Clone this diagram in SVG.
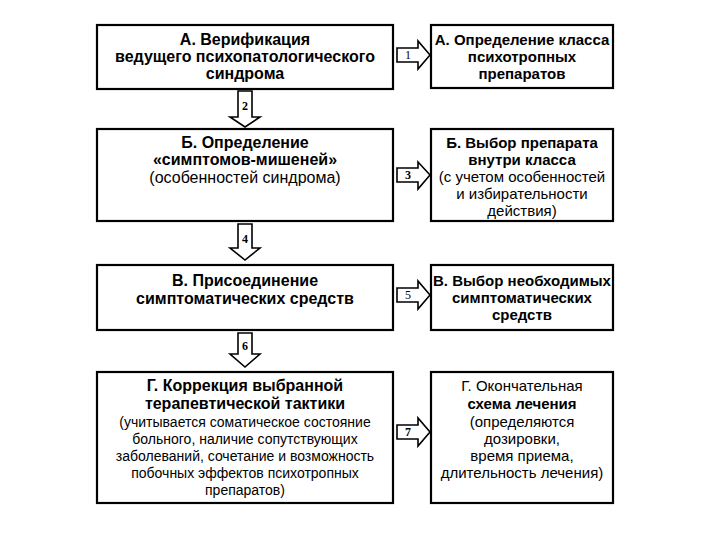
<svg xmlns="http://www.w3.org/2000/svg" width="720" height="540" viewBox="0 0 720 540">
<style>
.box{fill:#fff;stroke:#000;stroke-width:2.2}
.arr{fill:#fff;stroke:#000;stroke-width:1.6;stroke-linejoin:miter}
text{font-family:'Liberation Sans','DejaVu Sans',sans-serif;font-size:16px;fill:#000;text-anchor:middle}
.b{font-weight:bold;font-size:16px}
.rb{font-weight:bold;font-size:15px}
.r{font-size:15px}
.s{font-size:14px}
.n{font-family:'Liberation Serif',serif;font-size:12px}
.nb{font-family:'Liberation Serif',serif;font-size:12px;font-weight:bold}
</style>
<rect width="720" height="540" fill="#fff"/>
<g id="connectors">
<polygon class="arr" points="397,48 418,48 418,41 430,55 418,69 418,62 397,62"/>
<text class="n" x="408" y="59">1</text>
<polygon class="arr" points="238,91 252,91 252,117 260,117 245,127 230,117 238,117"/>
<text class="nb" x="245" y="110">2</text>
<polygon class="arr" points="397,168 418,168 418,162 430,175 418,189 418,182 397,182"/>
<text class="nb" x="408" y="179">3</text>
<polygon class="arr" points="238,224 252,224 252,248 260,248 245,260 230,248 238,248"/>
<text class="nb" x="245" y="243">4</text>
<polygon class="arr" points="397,288 418,288 418,281 430,295 418,309 418,302 397,302"/>
<text class="n" x="408" y="299">5</text>
<polygon class="arr" points="238,333 252,333 252,354 260,354 245,367 230,354 238,354"/>
<text class="nb" x="245" y="350">6</text>
<polygon class="arr" points="397,425 418,425 418,418 430,432 418,446 418,439 397,439"/>
<text class="nb" x="408" y="436">7</text>
</g>
<g id="nodeA1">
<rect class="box" x="97" y="25" width="296" height="64"/>
<text class="b" x="245" y="45">А.  Верификация</text>
<text class="b" x="245" y="62">ведущего   психопатологического</text>
<text class="b" x="245" y="79">синдрома</text>
</g>
<g id="nodeA2">
<rect class="box" x="431" y="25" width="182" height="63"/>
<text class="rb" x="522" y="45">А. Определение класса</text>
<text class="rb" x="522" y="62">психотропных</text>
<text class="rb" x="522" y="79">препаратов</text>
</g>
<g id="nodeB1">
<rect class="box" x="97" y="129" width="296" height="92"/>
<text class="b" x="245" y="148">Б.  Определение</text>
<text class="b" x="245" y="165">«симптомов-мишеней»</text>
<text x="245" y="183">(особенностей  синдрома)</text>
</g>
<g id="nodeB2">
<rect class="box" x="431" y="129" width="182" height="92"/>
<text class="rb" x="522" y="148">Б. Выбор препарата</text>
<text class="rb" x="522" y="165">внутри  класса</text>
<text class="r" x="522" y="182">(с учетом особенностей</text>
<text class="r" x="522" y="199">и избирательности</text>
<text class="r" x="522" y="216">действия)</text>
</g>
<g id="nodeV1">
<rect class="box" x="97" y="265" width="296" height="65"/>
<text class="b" x="245" y="286">В.  Присоединение</text>
<text class="b" x="245" y="304">симптоматических  средств</text>
</g>
<g id="nodeV2">
<rect class="box" x="431" y="265" width="182" height="65"/>
<text class="rb" x="522" y="286">В. Выбор необходимых</text>
<text class="rb" x="522" y="303">симптоматических</text>
<text class="rb" x="522" y="320">средств</text>
</g>
<g id="nodeG1">
<rect class="box" x="97" y="372" width="296" height="131"/>
<text class="b" x="245" y="391">Г.  Коррекция  выбранной</text>
<text class="b" x="245" y="409">терапевтической  тактики</text>
<text class="s" x="245" y="427">(учитывается соматическое состояние</text>
<text class="s" x="245" y="444">больного, наличие сопутствующих</text>
<text class="s" x="245" y="461">заболеваний, сочетание и возможность</text>
<text class="s" x="245" y="478">побочных эффектов психотропных</text>
<text class="s" x="245" y="495">препаратов)</text>
</g>
<g id="nodeG2">
<rect class="box" x="431" y="372" width="182" height="131"/>
<text class="r" x="522" y="391">Г.  Окончательная</text>
<text class="rb" x="522" y="409">схема  лечения</text>
<text class="r" x="522" y="427">(определяются</text>
<text class="r" x="522" y="444">дозировки,</text>
<text class="r" x="522" y="461">время приема,</text>
<text class="r" x="522" y="478">длительность лечения)</text>
</g>
</svg>
